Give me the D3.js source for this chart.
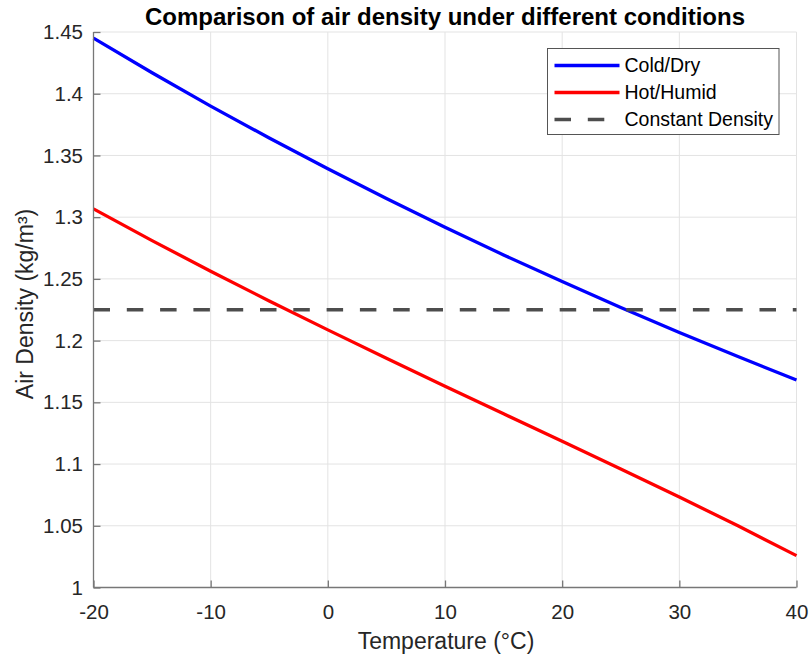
<!DOCTYPE html>
<html>
<head>
<meta charset="utf-8">
<script src="https://cdn.jsdelivr.net/npm/d3@7"></script>
<style>
  html, body { margin: 0; padding: 0; background: #fff; }
  svg { display: block; font-family: "Liberation Sans", Arial, Helvetica, sans-serif; }
</style>
</head>
<body>
<svg id="chart" width="811" height="657"></svg>
<script>
// Temperature samples (°C)
const temperature = [-20, -15, -10, -5, 0, 5, 10, 15, 20, 25, 30, 35, 40];
// Air density (kg/m³) for each temperature
const coldDry  = [1.4450, 1.4170, 1.3900, 1.3641, 1.3392, 1.3151, 1.2919, 1.2694, 1.2478, 1.2269, 1.2066, 1.1871, 1.1681];
const hotHumid = [1.3067, 1.2810, 1.2562, 1.2321, 1.2087, 1.1857, 1.1631, 1.1407, 1.1185, 1.0960, 1.0733, 1.0500, 1.0258];
const constantDensity = 1.225;

const xTicks = [-20, -10, 0, 10, 20, 30, 40];
const yTicks = [1, 1.05, 1.1, 1.15, 1.2, 1.25, 1.3, 1.35, 1.4, 1.45];
const yTickLabels = ["1", "1.05", "1.1", "1.15", "1.2", "1.25", "1.3", "1.35", "1.4", "1.45"];

const seriesNames = ["Cold/Dry", "Hot/Humid", "Constant Density"];
const seriesColors = ["#0000ff", "#ff0000", "#4d4d4d"];

const svg = d3.select("#chart");
const margin = { left: 93.5, right: 14.5, top: 32, bottom: 69.5 };
const W = 811, H = 657;
const x0 = margin.left, x1 = W - margin.right;
const y0 = H - margin.bottom, y1 = margin.top;

const x = d3.scaleLinear().domain([-20, 40]).range([x0, x1]);
const y = d3.scaleLinear().domain([1, 1.45]).range([y0, y1]);

const textColor = "#262626";
const gridColor = "#e3e3e3";
const fontFamily = "Liberation Sans, Arial, sans-serif";

// grid
const grid = svg.append("g");
grid.selectAll(".gx").data(xTicks).join("line")
  .attr("x1", d => x(d)).attr("x2", d => x(d))
  .attr("y1", y0).attr("y2", y1)
  .attr("stroke", gridColor).attr("stroke-width", 1);
grid.selectAll(".gy").data(yTicks).join("line")
  .attr("x1", x0).attr("x2", x1)
  .attr("y1", d => y(d)).attr("y2", d => y(d))
  .attr("stroke", gridColor).attr("stroke-width", 1);

// data lines
const line = d3.line().x((d, i) => x(temperature[i])).y(d => y(d));
svg.append("path").datum(coldDry)
  .attr("d", line).attr("fill", "none")
  .attr("stroke", seriesColors[0]).attr("stroke-width", 3.3);
svg.append("path").datum(hotHumid)
  .attr("d", line).attr("fill", "none")
  .attr("stroke", seriesColors[1]).attr("stroke-width", 3.3);
svg.append("line")
  .attr("x1", x(-20)).attr("x2", x(40))
  .attr("y1", y(constantDensity)).attr("y2", y(constantDensity))
  .attr("stroke", seriesColors[2]).attr("stroke-width", 3.6)
  .attr("stroke-dasharray", "16.5 16.8");

// axes: ticks point inward
const xAxis = d3.axisBottom(x).tickValues(xTicks).tickSize(-7).tickPadding(17)
  .tickFormat(d => String(d));
const yAxis = d3.axisLeft(y).tickValues(yTicks).tickSize(-7).tickPadding(10.5)
  .tickFormat((d, i) => yTickLabels[i]);

const gx = svg.append("g").attr("transform", `translate(0,${y0})`).call(xAxis);
const gy = svg.append("g").attr("transform", `translate(${x0},0)`).call(yAxis);
[gx, gy].forEach(g => {
  g.attr("font-family", fontFamily).attr("font-size", 20.5);
  g.select(".domain").attr("stroke", "#777").attr("stroke-width", 1.3);
  g.selectAll(".tick line").attr("stroke", "#777").attr("stroke-width", 1.3);
  g.selectAll(".tick text").attr("fill", textColor);
});
gx.select(".domain").attr("d", `M${x0},0H${x1}`);
gy.select(".domain").attr("d", `M0,${y0}V${y1}`);

// title and labels
svg.append("text")
  .attr("x", (x0 + x1) / 2).attr("y", 25)
  .attr("text-anchor", "middle")
  .attr("font-size", 24).attr("font-weight", "bold").attr("fill", "#000")
  .text("Comparison of air density under different conditions");

svg.append("text")
  .attr("x", 446).attr("y", 649)
  .attr("text-anchor", "middle")
  .attr("font-size", 23).attr("fill", textColor)
  .text("Temperature (°C)");

svg.append("text")
  .attr("transform", `translate(33,304) rotate(-90)`)
  .attr("text-anchor", "middle")
  .attr("font-size", 23).attr("fill", textColor)
  .text("Air Density (kg/m³)");

// legend
const lg = svg.append("g").attr("transform", "translate(547.5,48.5)");
lg.append("rect").attr("width", 231.5).attr("height", 86)
  .attr("fill", "#fff").attr("stroke", "#555").attr("stroke-width", 1);
const rows = lg.selectAll(".row").data(seriesNames).join("g")
  .attr("transform", (d, i) => `translate(0,${17 + i * 27})`);
rows.append("line")
  .attr("x1", 7).attr("x2", 72).attr("y1", 0).attr("y2", 0)
  .attr("stroke", (d, i) => seriesColors[i])
  .attr("stroke-width", (d, i) => i === 2 ? 3.6 : 3.3)
  .attr("stroke-dasharray", (d, i) => i === 2 ? "16.5 16.8" : null);
rows.append("text")
  .attr("x", 77).attr("y", 0).attr("dy", "0.35em")
  .attr("font-size", 19.5).attr("fill", "#000")
  .text(d => d);
</script>
</body>
</html>
